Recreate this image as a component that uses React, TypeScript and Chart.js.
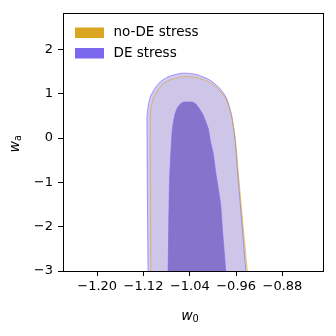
import { useEffect, useRef } from "react";
import { Chart, registerables } from "chart.js";

Chart.register(...registerables);

// ---- axes ----
const xTicks = [-1.2, -1.12, -1.04, -0.96, -0.88];
const yTicks = [-3, -2, -1, 0, 1, 2];
const xRange = [-1.259, -0.81];
const yRange = [-3, 2.82];

// ---- legend ----
const legendLabels = ["no-DE stress", "DE stress"];
const legendColors = ["#DAA520", "#7B68EE"];

// ---- contours (w0, wa) ----
const noDEOuterW0 = [-1.1072, -1.1073, -1.1078, -1.1082, -1.1085, -1.1082, -1.1039, -1.0952, -1.0857, -1.0728, -1.0555, -1.047, -1.04, -1.0262, -1.0055, -0.9891, -0.977, -0.9684, -0.9615, -0.9548, -0.9478, -0.9408, -0.9395];
const noDEOuterWa = [-3.3, -3.0, -2.0, -1.0, -0.08, 0.52, 0.86, 1.08, 1.23, 1.32, 1.376, 1.385, 1.381, 1.358, 1.25, 1.08, 0.86, 0.52, 0.0, -1.0, -2.0, -3.0, -3.3];

const noDEInnerW0 = [-1.0767, -1.0765, -1.0754, -1.074, -1.0718, -1.0706, -1.0689, -1.065, -1.061, -1.0562, -1.051, -1.043, -1.035, -1.0298, -1.0249, -1.018, -1.0094, -1.0053, -1.0008, -0.9961, -0.9878, -0.9845, -0.9789, -0.9782];
const noDEInnerWa = [-3.3, -3.0, -2.0, -1.0, -0.34, -0.08, 0.22, 0.51, 0.66, 0.745, 0.79, 0.795, 0.79, 0.745, 0.66, 0.51, 0.22, -0.08, -0.34, -0.79, -1.5, -2.1, -3.0, -3.3];

const deOuterW0 = [-1.1118, -1.112, -1.1128, -1.1134, -1.1137, -1.1137, -1.109, -1.1004, -1.0906, -1.0775, -1.0573, -1.048, -1.04, -1.028, -1.0056, -0.9883, -0.9767, -0.968, -0.9623, -0.956, -0.9497, -0.9434, -0.9425];
const deOuterWa = [-3.3, -3.0, -2.0, -1.0, -0.08, 0.52, 0.9, 1.12, 1.27, 1.38, 1.455, 1.463, 1.455, 1.43, 1.31, 1.12, 0.9, 0.52, 0.0, -1.0, -2.0, -3.0, -3.3];

const deInnerW0 = [-1.0777, -1.0775, -1.0764, -1.075, -1.0728, -1.0716, -1.0699, -1.0659, -1.0619, -1.0572, -1.0516, -1.043, -1.0343, -1.0288, -1.024, -1.0171, -1.0084, -1.0043, -0.9998, -0.9951, -0.9868, -0.9835, -0.9779, -0.9772];
const deInnerWa = [-3.3, -3.0, -2.0, -1.0, -0.34, -0.08, 0.22, 0.52, 0.671, 0.755, 0.806, 0.812, 0.806, 0.755, 0.671, 0.52, 0.22, -0.08, -0.34, -0.79, -1.5, -2.1, -3.0, -3.3];

const pts = (xs: number[], ys: number[]) => xs.map((x, i) => ({ x, y: ys[i] }));
const fmtX = (v: number) => (v < 0 ? "\u2212" : "") + Math.abs(v).toFixed(2);
const fmtY = (v: number) => (v < 0 ? "\u2212" : "") + Math.abs(v).toFixed(0);

const FONT = "'DejaVu Sans', sans-serif";

const framePlugin = {
  id: "frame",
  afterDraw(chart: any) {
    const { ctx, chartArea: a } = chart;
    ctx.save();
    ctx.strokeStyle = "#000";
    ctx.lineWidth = 1;
    ctx.beginPath();
    ctx.moveTo(Math.round(a.left), Math.round(a.top) + 0.5);
    ctx.lineTo(Math.round(a.right) + 1, Math.round(a.top) + 0.5);
    ctx.moveTo(Math.round(a.right) + 0.5, Math.round(a.top));
    ctx.lineTo(Math.round(a.right) + 0.5, Math.round(a.bottom) + 1);
    ctx.stroke();
    ctx.restore();
  },
};

const legendPlugin = {
  id: "insideLegend",
  afterDraw(chart: any) {
    const { ctx, chartArea: a } = chart;
    ctx.save();
    const x0 = a.left + 12;
    const rowY = [a.top + 19.5, a.top + 40];
    legendLabels.forEach((lab, i) => {
      ctx.fillStyle = legendColors[i];
      ctx.fillRect(x0, rowY[i] - 5, 29, 10.5);
      ctx.fillStyle = "#000";
      ctx.font = `13.5px ${FONT}`;
      ctx.textBaseline = "middle";
      ctx.textAlign = "left";
      ctx.fillText(lab, x0 + 38.5, rowY[i]);
    });
    ctx.restore();
  },
};

const titlePlugin = {
  id: "axisTitles",
  afterDraw(chart: any) {
    const ctx = chart.ctx;
    ctx.save();
    ctx.fillStyle = "#000";
    ctx.textBaseline = "alphabetic";
    ctx.textAlign = "left";
    const main = `italic 14px ${FONT}`;
    const sub = `9.8px ${FONT}`;
    // x title
    ctx.font = main;
    const ww = ctx.measureText("w").width;
    ctx.font = sub;
    const w0w = ctx.measureText("0").width;
    let sx = 190 - (ww + w0w) / 2;
    ctx.font = main;
    ctx.fillText("w", sx, 319.5);
    ctx.font = sub;
    ctx.fillText("0", sx + ww, 322);
    // y title
    ctx.translate(18.5, 143.7);
    ctx.rotate(-Math.PI / 2);
    ctx.font = sub;
    const aw = ctx.measureText("a").width;
    sx = -(ww + aw) / 2;
    ctx.font = main;
    ctx.fillText("w", sx, 0);
    ctx.font = sub;
    ctx.fillText("a", sx + ww, 2.4);
    ctx.restore();
  },
};

export default function App() {
  const ref = useRef<HTMLCanvasElement | null>(null);
  useEffect(() => {
    if (!ref.current) return;
    const common = { showLine: true, pointRadius: 0, pointHoverRadius: 0, tension: 0.2 };
    const chart = new Chart(ref.current, {
      type: "scatter",
      data: {
        datasets: [
          { ...common, label: "no-DE stress 95%", data: pts(noDEOuterW0, noDEOuterWa), fill: "shape", backgroundColor: "rgb(240,222,165)", borderWidth: 0, borderColor: "rgba(0,0,0,0)", order: 6 },
          { ...common, label: "no-DE stress 68%", data: pts(noDEInnerW0, noDEInnerWa), fill: "shape", backgroundColor: "rgb(218,165,32)", borderWidth: 0, borderColor: "rgba(0,0,0,0)", order: 5 },
          { ...common, label: "DE stress 95%", data: pts(deOuterW0, deOuterWa), fill: "shape", backgroundColor: "rgba(199,194,245,0.85)", borderWidth: 1, borderColor: "rgba(150,135,242,0.9)", order: 4 },
          { ...common, label: "DE stress 68%", data: pts(deInnerW0, deInnerWa), fill: "shape", backgroundColor: "rgba(122,102,202,0.85)", borderWidth: 0.8, borderColor: "rgba(123,104,238,0.8)", order: 3 },
          { ...common, label: "no-DE stress edge", data: pts(noDEOuterW0, noDEOuterWa), fill: false, borderWidth: 0.9, borderColor: "rgba(218,165,32,0.7)", order: 2 },
        ],
      },
      options: {
        animation: false,
        responsive: false,
        devicePixelRatio: 1,
        layout: { padding: { left: 0, top: 13, right: 13, bottom: 0 } },
        plugins: { legend: { display: false }, tooltip: { enabled: false }, title: { display: false } },
        scales: {
          x: {
            type: "linear",
            min: xRange[0],
            max: xRange[1],
            afterBuildTicks: (s: any) => { s.ticks = xTicks.map((v) => ({ value: v })); },
            afterFit: (s: any) => { s.height = 65; },
            ticks: { font: { family: FONT, size: 13 }, color: "#000", padding: 3, maxRotation: 0, autoSkip: false, callback: (v: any) => fmtX(Number(v)) },
            grid: { drawOnChartArea: false, drawTicks: true, tickLength: 5, color: "#000", lineWidth: 1 },
            border: { display: true, color: "#000", width: 1 },
          },
          y: {
            type: "linear",
            min: yRange[0],
            max: yRange[1],
            afterBuildTicks: (s: any) => { s.ticks = yTicks.map((v) => ({ value: v })); },
            afterFit: (s: any) => { s.width = 63; },
            ticks: { font: { family: FONT, size: 13 }, color: "#000", padding: 5, autoSkip: false, callback: (v: any) => fmtY(Number(v)) },
            grid: { drawOnChartArea: false, drawTicks: true, tickLength: 5, color: "#000", lineWidth: 1 },
            border: { display: true, color: "#000", width: 1 },
          },
        },
      },
      plugins: [framePlugin, legendPlugin, titlePlugin],
    } as any);
    return () => chart.destroy();
  }, []);
  return (
    <div style={{ position: "absolute", left: 0, top: 0, width: 336, height: 336, background: "#fff" }}>
      <canvas ref={ref} width={336} height={336} style={{ display: "block", width: 336, height: 336 }} />
    </div>
  );
}
